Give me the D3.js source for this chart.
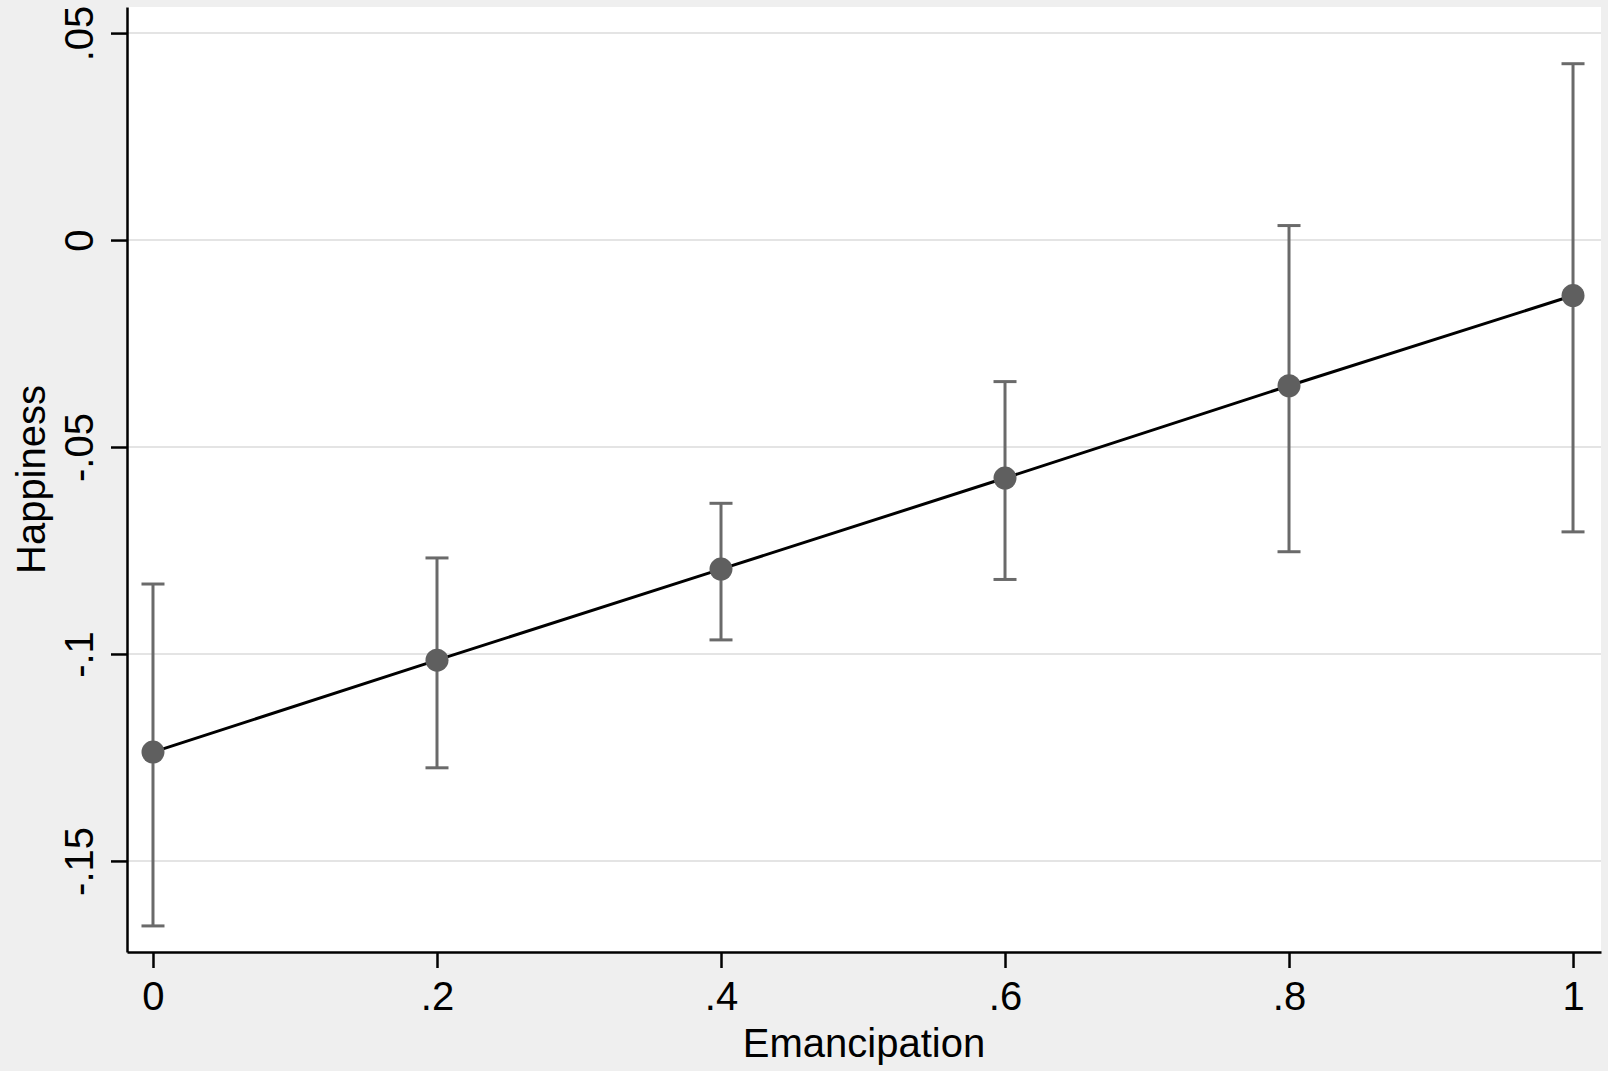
<!DOCTYPE html>
<html>
<head>
<meta charset="utf-8">
<script src="https://cdn.jsdelivr.net/npm/d3@7"></script>
<style>
	html, body { margin: 0; padding: 0; background: #efefef; }
	svg { display: block; }
	text { font-family: "Liberation Sans", Arial, Helvetica, sans-serif; fill: #000; }
</style>
</head>
<body>
<div id="chart"></div>
<script>

// data
const emancipation = [0, 0.2, 0.4, 0.6, 0.8, 1];
const happiness = [-0.1237, -0.1015, -0.0795, -0.0575, -0.0352, -0.0134];
const ciLower = [-0.1657, -0.1275, -0.0966, -0.0820, -0.0753, -0.0705];
const ciUpper = [-0.0831, -0.0768, -0.0636, -0.0342, 0.0035, 0.0426];

const xTicks = [0, 0.2, 0.4, 0.6, 0.8, 1];
const yTicks = [-0.15, -0.1, -0.05, 0, 0.05];

const xTitle = "Emancipation";
const yTitle = "Happiness";

const width = 1608;
const height = 1071;
const plot = { left: 127, right: 1601, top: 7, bottom: 952 };

function stataFormat(d) {
	if (d === 0) return "0";
	return String(+d.toFixed(2)).replace("0.", ".");
}

function buildChart(parentID) {

	let points = emancipation.map((x, i) => ({
		x: x,
		y: happiness[i],
		lo: ciLower[i],
		hi: ciUpper[i]
	}));

	let svg = d3.select(`#${parentID}`)
		.append("svg")
		.attr("width", width)
		.attr("height", height);

	svg.append("rect")
		.attr("width", width)
		.attr("height", height)
		.attr("fill", "#efefef");

	// plot region
	svg.append("rect")
		.attr("x", plot.left)
		.attr("y", plot.top)
		.attr("width", plot.right - plot.left)
		.attr("height", plot.bottom - plot.top)
		.attr("fill", "#ffffff");

	// scales
	let xScale = d3.scaleLinear()
		.domain([-0.0183, 1.0197])
		.range([plot.left, plot.right]);

	let yScale = d3.scaleLinear()
		.domain([-0.172, 0.0563])
		.range([plot.bottom, plot.top]);

	// gridlines
	svg.append("g")
		.selectAll("line")
		.data(yTicks)
		.join("line")
		.attr("x1", plot.left)
		.attr("x2", plot.right)
		.attr("y1", d => yScale(d))
		.attr("y2", d => yScale(d))
		.attr("stroke", "#e4e4e4")
		.attr("stroke-width", 2);

	// confidence intervals
	let ci = svg.append("g")
		.attr("stroke", "#6a6a6a")
		.attr("stroke-width", 3)
		.attr("fill", "none");

	ci.selectAll(".bar")
		.data(points)
		.join("line")
		.attr("class", "bar")
		.attr("x1", d => xScale(d.x))
		.attr("x2", d => xScale(d.x))
		.attr("y1", d => yScale(d.lo))
		.attr("y2", d => yScale(d.hi));

	ci.selectAll(".capLo")
		.data(points)
		.join("line")
		.attr("class", "capLo")
		.attr("x1", d => xScale(d.x) - 11.5)
		.attr("x2", d => xScale(d.x) + 11.5)
		.attr("y1", d => yScale(d.lo))
		.attr("y2", d => yScale(d.lo));

	ci.selectAll(".capHi")
		.data(points)
		.join("line")
		.attr("class", "capHi")
		.attr("x1", d => xScale(d.x) - 11.5)
		.attr("x2", d => xScale(d.x) + 11.5)
		.attr("y1", d => yScale(d.hi))
		.attr("y2", d => yScale(d.hi));

	// connecting line
	let line = d3.line()
		.x(d => xScale(d.x))
		.y(d => yScale(d.y));

	svg.append("path")
		.datum(points)
		.attr("d", line)
		.attr("fill", "none")
		.attr("stroke", "#000")
		.attr("stroke-width", 3);

	// markers
	svg.append("g")
		.selectAll("circle")
		.data(points)
		.join("circle")
		.attr("cx", d => xScale(d.x))
		.attr("cy", d => yScale(d.y))
		.attr("r", 11.5)
		.attr("fill", "#5f5f5f");

	// axes
	let xAxis = svg.append("g")
		.attr("transform", `translate(0,${plot.bottom})`)
		.call(d3.axisBottom(xScale)
			.tickValues(xTicks)
			.tickSize(16)
			.tickSizeOuter(0)
			.tickFormat(stataFormat));

	let yAxis = svg.append("g")
		.attr("transform", `translate(${plot.left},0)`)
		.call(d3.axisLeft(yScale)
			.tickValues(yTicks)
			.tickSize(16)
			.tickSizeOuter(0)
			.tickFormat(stataFormat));

	[xAxis, yAxis].forEach(a => {
		a.select(".domain")
			.attr("stroke", "#000")
			.attr("stroke-width", 2.5);
		a.selectAll(".tick line")
			.attr("stroke", "#000")
			.attr("stroke-width", 2.5);
		a.selectAll(".tick text")
			.style("font-size", "40px")
			.attr("fill", "#000");
	});

	xAxis.selectAll(".tick text")
		.attr("y", 58)
		.attr("dy", 0);

	yAxis.selectAll(".tick text")
		.attr("x", 0)
		.attr("y", 0)
		.attr("dy", 0)
		.attr("text-anchor", "middle")
		.attr("transform", "translate(-34,0) rotate(-90)");

	// axis titles
	svg.append("text")
		.attr("x", (plot.left + plot.right) / 2)
		.attr("y", 1057)
		.attr("text-anchor", "middle")
		.style("font-size", "40px")
		.text(xTitle);

	svg.append("text")
		.attr("transform", `translate(45,${(plot.top + plot.bottom) / 2}) rotate(-90)`)
		.attr("text-anchor", "middle")
		.style("font-size", "40px")
		.text(yTitle);
}

buildChart("chart");
</script>
</body>
</html>
